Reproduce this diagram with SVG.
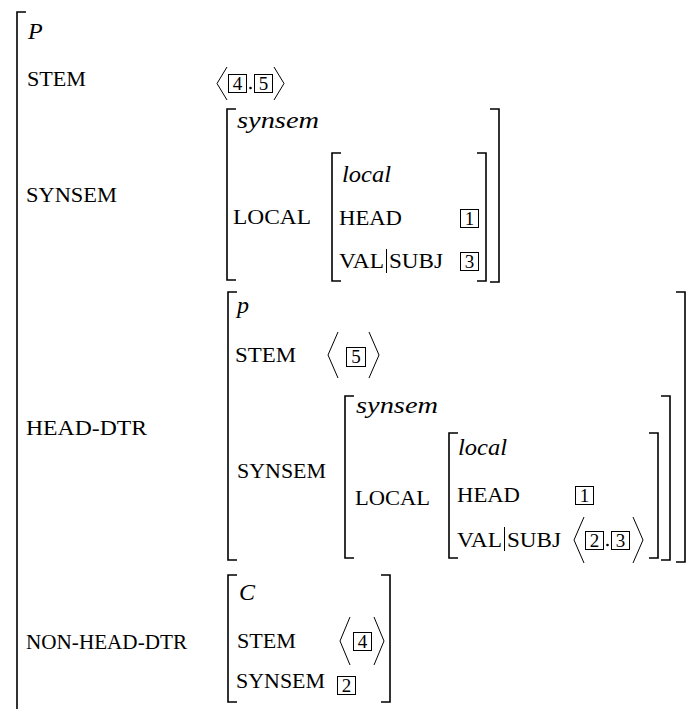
<svg xmlns="http://www.w3.org/2000/svg" width="688" height="709" viewBox="0 0 688 709">
<style>
.sc{font-size:20px}
.it{font-size:24px;font-style:italic}
.num{font-size:19px;text-anchor:middle}
.br{fill:none;stroke:#000;stroke-width:1.6}
.box{fill:none;stroke:#000;stroke-width:1}
.ang{fill:none;stroke:#000;stroke-width:1}
.bar{stroke:#000;stroke-width:1}
</style>
<rect width="688" height="709" fill="#fff"/>
<g id="outer">
<path class="br" d="M26 12H17V709"/>
<text class="it" font-family="Liberation Serif" x="28" y="39">P</text>
<text class="sc" font-family="Liberation Serif" x="27" y="86" textLength="59" lengthAdjust="spacingAndGlyphs">STEM</text>
<text class="sc" font-family="Liberation Serif" x="26" y="202" textLength="91" lengthAdjust="spacingAndGlyphs">SYNSEM</text>
<text class="sc" font-family="Liberation Serif" x="26" y="435" textLength="121" lengthAdjust="spacingAndGlyphs">HEAD-DTR</text>
<text class="sc" font-family="Liberation Serif" x="26" y="649" textLength="161" lengthAdjust="spacingAndGlyphs">NON-HEAD-DTR</text>
<polyline class="ang" points="227,67 217,83.5 227,100"/>
<rect class="box" x="228.5" y="74.5" width="18" height="18"/>
<text class="num" font-family="Liberation Serif" x="237.5" y="90">4</text>
<circle cx="250.5" cy="88" r="1.3"/>
<rect class="box" x="254.5" y="74.5" width="18" height="18"/>
<text class="num" font-family="Liberation Serif" x="263.5" y="90">5</text>
<polyline class="ang" points="274,67 284,83.5 274,100"/>
</g>
<g id="synsem-top">
<path class="br" d="M236 109H227V280H236"/>
<text class="it" font-family="Liberation Serif" x="237" y="128" textLength="82" lengthAdjust="spacingAndGlyphs">synsem</text>
<text class="sc" font-family="Liberation Serif" x="233" y="224" textLength="78" lengthAdjust="spacingAndGlyphs">LOCAL</text>
<path class="br" d="M341 153H332V281H341"/>
<text class="it" font-family="Liberation Serif" x="342" y="182" textLength="49" lengthAdjust="spacingAndGlyphs">local</text>
<text class="sc" font-family="Liberation Serif" x="339" y="225" textLength="63" lengthAdjust="spacingAndGlyphs">HEAD</text>
<rect class="box" x="460.5" y="209.5" width="18" height="18"/>
<text class="num" font-family="Liberation Serif" x="469.5" y="225">1</text>
<text class="sc" font-family="Liberation Serif" x="339" y="268" textLength="45" lengthAdjust="spacingAndGlyphs">VAL</text>
<line class="bar" x1="386.5" y1="249" x2="386.5" y2="273"/>
<text class="sc" font-family="Liberation Serif" x="389" y="268" textLength="54" lengthAdjust="spacingAndGlyphs">SUBJ</text>
<rect class="box" x="460.5" y="252.5" width="18" height="18"/>
<text class="num" font-family="Liberation Serif" x="469.5" y="268">3</text>
<path class="br" d="M477 153H486V281H477"/>
<path class="br" d="M490 109H499V282H490"/>
</g>
<g id="head-dtr">
<path class="br" d="M237 292H228V560H237"/>
<text class="it" font-family="Liberation Serif" x="237" y="313">p</text>
<text class="sc" font-family="Liberation Serif" x="235" y="362" textLength="61" lengthAdjust="spacingAndGlyphs">STEM</text>
<polyline class="ang" points="338,332 328,355 338,378"/>
<rect class="box" x="346.5" y="347.5" width="19" height="19"/>
<text class="num" font-family="Liberation Serif" x="356" y="363">5</text>
<polyline class="ang" points="369,332 379,355 369,378"/>
<text class="sc" font-family="Liberation Serif" x="237" y="478" textLength="89" lengthAdjust="spacingAndGlyphs">SYNSEM</text>
<path class="br" d="M354 396H345V558H354"/>
<text class="it" font-family="Liberation Serif" x="356" y="413" textLength="82" lengthAdjust="spacingAndGlyphs">synsem</text>
<text class="sc" font-family="Liberation Serif" x="355" y="505" textLength="75" lengthAdjust="spacingAndGlyphs">LOCAL</text>
<path class="br" d="M458 433H449V558H458"/>
<text class="it" font-family="Liberation Serif" x="458" y="455" textLength="49" lengthAdjust="spacingAndGlyphs">local</text>
<text class="sc" font-family="Liberation Serif" x="457" y="502" textLength="63" lengthAdjust="spacingAndGlyphs">HEAD</text>
<rect class="box" x="575.5" y="486.5" width="18" height="18"/>
<text class="num" font-family="Liberation Serif" x="584.5" y="502">1</text>
<text class="sc" font-family="Liberation Serif" x="457" y="547" textLength="45" lengthAdjust="spacingAndGlyphs">VAL</text>
<line class="bar" x1="504.5" y1="527" x2="504.5" y2="551"/>
<text class="sc" font-family="Liberation Serif" x="507" y="547" textLength="54" lengthAdjust="spacingAndGlyphs">SUBJ</text>
<polyline class="ang" points="584,517 574,540 584,563"/>
<rect class="box" x="585.5" y="531.5" width="18" height="18"/>
<text class="num" font-family="Liberation Serif" x="594.5" y="547">2</text>
<circle cx="607.5" cy="545" r="1.3"/>
<rect class="box" x="611.5" y="531.5" width="18" height="18"/>
<text class="num" font-family="Liberation Serif" x="620.5" y="547">3</text>
<polyline class="ang" points="633,517 643,540 633,563"/>
<path class="br" d="M649 433H658V558H649"/>
<path class="br" d="M661 396H670V560H661"/>
<path class="br" d="M676 292H685V562H676"/>
</g>
<g id="non-head-dtr">
<path class="br" d="M237 575H228V702H237"/>
<text class="it" font-family="Liberation Serif" x="239" y="600">C</text>
<text class="sc" font-family="Liberation Serif" x="237" y="648" textLength="59" lengthAdjust="spacingAndGlyphs">STEM</text>
<polyline class="ang" points="350,617 340,641 350,665"/>
<rect class="box" x="353.5" y="632.5" width="18" height="18"/>
<text class="num" font-family="Liberation Serif" x="362.5" y="648">4</text>
<polyline class="ang" points="374,617 384,641 374,665"/>
<text class="sc" font-family="Liberation Serif" x="236" y="688" textLength="89" lengthAdjust="spacingAndGlyphs">SYNSEM</text>
<rect class="box" x="337.5" y="676.5" width="18" height="18"/>
<text class="num" font-family="Liberation Serif" x="346.5" y="692">2</text>
<path class="br" d="M381 575H390V702H381"/>
</g>
</svg>
